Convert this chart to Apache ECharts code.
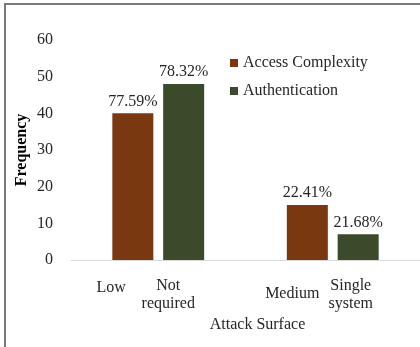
<!DOCTYPE html>
<html>
<head>
<meta charset="utf-8">
<script src="https://cdn.jsdelivr.net/npm/echarts@6/dist/echarts.min.js"></script>
<style>
  html, body { margin: 0; padding: 0; background: #fff; }
  #chart { width: 420px; height: 347px; }
  .frame { position: absolute; left: 4px; top: 3px; width: 420px; height: 350px;
           border-left: 2px solid #7a7a7a; border-top: 2px solid #7a7a7a; pointer-events: none; }
</style>
</head>
<body>
<div id="chart"></div>
<div class="frame"></div>
<script>
// data
const seriesNames = ['Access Complexity', 'Authentication'];
const groups = ['Group 1', 'Group 2'];
const accessLevels = ['Low', 'Medium'];
const authLevels = ['Not required', 'Single system'];
const accessValues = [40, 15];
const authValues = [48, 7];
const accessPct = ['77.59%', '22.41%'];
const authPct = ['78.32%', '21.68%'];
const yTicks = [0, 10, 20, 30, 40, 50, 60];

const font = "'Liberation Serif', 'Times New Roman', serif";
const ink = '#262626';

const myChart = echarts.init(document.getElementById('chart'));

const option = {
  animation: false,
  textStyle: { fontFamily: font, fontSize: 16, color: ink },
  legend: {
    orient: 'vertical',
    left: 230,
    top: 54,
    padding: 0,
    itemWidth: 8,
    itemHeight: 8,
    itemGap: 10,
    icon: 'rect',
    textStyle: { fontFamily: font, fontSize: 16, color: ink, lineHeight: 18 },
    data: seriesNames
  },
  grid: { left: 71, right: -3, top: 40, bottom: 87 },
  xAxis: [
    {
      type: 'category',
      data: groups,
      name: 'Attack Surface',
      nameLocation: 'middle',
      nameGap: 57,
      nameTextStyle: { fontFamily: font, fontSize: 16, color: ink, padding: [0, 0, 0, 24] },
      axisLine: { lineStyle: { color: '#d9d9d9', width: 1 } },
      axisTick: { show: false },
      axisLabel: {
        margin: 20,
        formatter: (v, i) => `{g${i}|${accessLevels[i]}}`,
        rich: {
          g0: { fontFamily: font, fontSize: 16, color: ink, padding: [0, 94, 0, 0] },
          g1: { fontFamily: font, fontSize: 16, color: ink, padding: [6, 81, 0, 0] }
        }
      }
    },
    {
      type: 'category',
      data: groups,
      position: 'bottom',
      gridIndex: 0,
      axisLine: { show: false },
      axisTick: { show: false },
      axisLabel: {
        margin: 17,
        lineHeight: 18,
        formatter: (v, i) => authLevels[i].split(' ').map(w => `{a${i}|${w}}`).join('\n'),
        rich: {
          a0: { fontFamily: font, fontSize: 16, color: ink, lineHeight: 18, padding: [0, 0, 0, 20] },
          a1: { fontFamily: font, fontSize: 16, color: ink, lineHeight: 18, padding: [0, 0, 0, 36] }
        }
      }
    }
  ],
  yAxis: {
    type: 'value',
    min: yTicks[0],
    max: yTicks[yTicks.length - 1],
    interval: 10,
    name: 'Frequency',
    nameLocation: 'middle',
    nameGap: 41,
    nameMoveOverlap: false,
    nameTextStyle: { fontFamily: font, fontSize: 16, fontWeight: 'bold', color: '#000' },
    axisLine: { show: false },
    axisTick: { show: false },
    splitLine: { show: false },
    axisLabel: { margin: 18, fontFamily: font, fontSize: 16, color: ink }
  },
  series: [
    {
      name: seriesNames[0],
      type: 'bar',
      xAxisIndex: 0,
      data: accessValues,
      barWidth: 41,
      barGap: '24%',
      itemStyle: { color: '#7a3810' },
      label: {
        show: true,
        position: 'top',
        distance: 4,
        fontFamily: font,
        fontSize: 16,
        color: ink,
        formatter: p => accessPct[p.dataIndex]
      }
    },
    {
      name: seriesNames[1],
      type: 'bar',
      xAxisIndex: 0,
      data: authValues,
      barWidth: 41,
      itemStyle: { color: '#3a4a2b' },
      label: {
        show: true,
        position: 'top',
        distance: 4,
        fontFamily: font,
        fontSize: 16,
        color: ink,
        formatter: p => authPct[p.dataIndex]
      }
    }
  ]
};

myChart.setOption(option);
</script>
</body>
</html>
